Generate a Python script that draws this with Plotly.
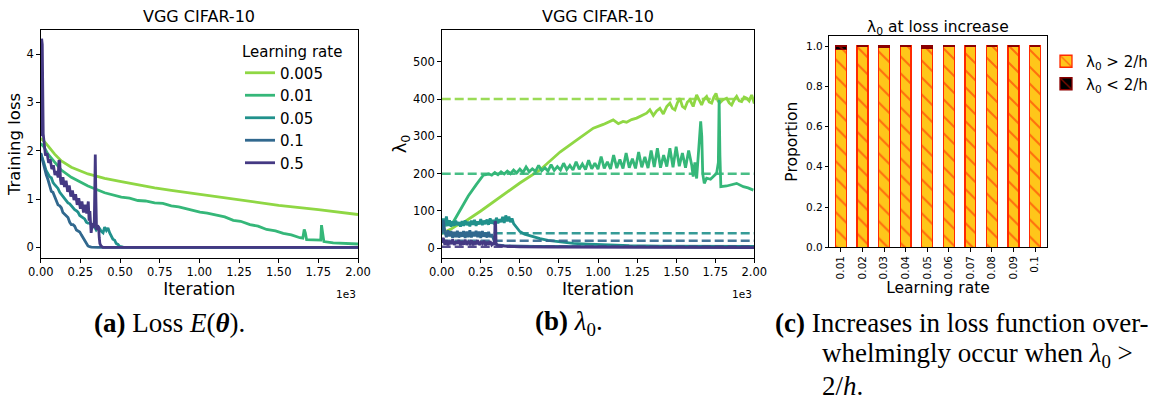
import plotly.graph_objects as go

# ---------------- data ----------------
LR_LABELS = ["0.005", "0.01", "0.05", "0.1", "0.5"]
LR_COLORS = ["#8fd744", "#35b779", "#21918c", "#31688e", "#443983"]

# (a) training loss vs iteration
LOSS_IT_005 = [0, 20, 46, 88, 130, 193, 298, 403, 508, 613, 718, 823, 928, 1050, 1250, 1500, 1750, 2000]
LOSS_005 = [2.26, 2.2, 2.1, 1.93, 1.79, 1.66, 1.52, 1.43, 1.36, 1.29, 1.23, 1.18, 1.13, 1.07, 0.98, 0.87, 0.78, 0.68]

LOSS_IT_01 = [0, 20, 46, 88, 130, 193, 298, 403, 508, 560, 613, 660, 718, 770, 823, 870, 928, 970, 1004,
              1050, 1108, 1160, 1214, 1260, 1319, 1370, 1424, 1480, 1529, 1580, 1634, 1652, 1661, 1668,
              1676, 1720, 1755, 1765, 1770, 1778, 1785, 1844, 1920, 2000]
LOSS_01 = [2.15, 2.08, 1.93, 1.77, 1.6, 1.45, 1.27, 1.13, 1.04, 1.02, 0.97, 0.96, 0.92, 0.91, 0.86, 0.84, 0.79, 0.77, 0.73,
           0.71, 0.66, 0.63, 0.56, 0.54, 0.47, 0.44, 0.37, 0.34, 0.29, 0.26, 0.2, 0.19, 0.37, 0.3,
           0.16, 0.15, 0.14, 0.15, 0.46, 0.3, 0.12, 0.095, 0.08, 0.07]

LOSS_IT_05 = [0, 8, 20, 33, 46, 57, 67, 78, 88, 99, 109, 120, 130, 140, 151, 162, 172, 183, 193, 204, 214,
              225, 235, 246, 256, 267, 277, 288, 298, 308, 319, 330, 340, 350, 360, 371, 382, 393, 403,
              414, 424, 435, 445, 455, 466, 476, 487, 497, 520, 600, 2000]
LOSS_05 = [1.95, 1.88, 1.75, 1.6, 1.52, 1.46, 1.44, 1.34, 1.3, 1.26, 1.22, 1.14, 1.1, 1.05, 1.0, 0.96, 0.92, 0.9,
           0.86, 0.8, 0.78, 0.76, 0.73, 0.66, 0.64, 0.62, 0.59, 0.52, 0.5, 0.5, 0.48, 0.43, 0.42, 0.36, 0.4,
           0.39, 0.33, 0.3, 0.42, 0.35, 0.4, 0.3, 0.22, 0.17, 0.15, 0.08, 0.06, 0.02, 0.005, 0.0, 0.0]

LOSS_IT_1 = [0, 8, 16, 25, 35, 46, 56, 67, 77, 88, 98, 109, 120, 130, 140, 151, 162, 172, 183, 193, 204, 214,
             225, 235, 246, 256, 267, 277, 288, 298, 308, 319, 360, 2000]
LOSS_1 = [1.95, 1.85, 1.7, 1.59, 1.5, 1.4, 1.3, 1.16, 1.14, 1.06, 0.95, 0.88, 0.86, 0.82, 0.72, 0.68, 0.66,
          0.62, 0.52, 0.47, 0.47, 0.44, 0.36, 0.34, 0.32, 0.26, 0.2, 0.12, 0.08, 0.03, 0.015, 0.005, 0.0, 0.0]

LOSS_IT_5 = [0, 6, 10, 16, 20, 30, 40, 50, 60, 70, 80, 90, 100, 110, 115, 120, 125, 130, 140, 150, 160, 170,
             180, 190, 200, 210, 220, 230, 240, 250, 260, 270, 280, 290, 300, 305, 310, 318, 325, 332, 338,
             344, 348, 352, 358, 365, 369, 373, 380, 392, 450, 2000]
LOSS_5 = [2.3, 4.32, 4.2, 2.35, 2.2, 1.9, 1.95, 1.75, 1.82, 1.62, 1.7, 1.5, 1.58, 1.45, 1.8, 1.78, 1.4,
          1.3, 1.45, 1.25, 1.38, 1.15, 1.28, 1.05, 1.18, 0.98, 1.1, 0.88, 1.02, 0.8, 0.95, 0.72, 0.88, 0.7,
          0.95, 0.55, 0.75, 0.3, 0.5, 0.4, 0.55, 1.92, 1.0, 0.36, 0.45, 0.42, 0.2, 0.08, 0.03, 0.0, 0.0, 0.0]

# (b) lambda_0 vs iteration
LAM_IT_005 = [0, 30, 60, 100, 150, 250, 350, 500, 629, 757, 863, 970, 1034, 1070, 1097, 1130, 1160, 1183, 1215,
              1247, 1280, 1311, 1332, 1354, 1375, 1396, 1418, 1440, 1460, 1476, 1492, 1508, 1524, 1540, 1556,
              1572, 1588, 1609, 1631, 1647, 1663, 1679, 1695, 1711, 1727, 1741, 1755, 1768, 1780, 1800, 1823,
              1839, 1855, 1871, 1887, 1903, 1919, 1935, 1951, 1967, 1983, 2000]
LAM_005 = [40, 45, 52, 62, 72, 100, 130, 175, 210, 258, 290, 322, 332, 340, 344, 334, 340, 338, 345,
           349, 355, 362, 371, 356, 368, 375, 360, 380, 389, 375, 371, 390, 402, 380, 375,
           392, 398, 380, 411, 395, 384, 400, 407, 392, 389, 405, 415, 395, 390, 398, 402,
           390, 384, 398, 407, 395, 393, 405, 402, 395, 411, 388]

LAM_IT_01 = [0, 30, 75, 120, 170, 220, 266] + list(range(300, 1601, 20)) + [
    1609, 1620, 1631, 1645, 1657, 1664, 1670, 1680, 1695, 1720, 1738, 1759, 1770, 1775, 1780,
    1786, 1823, 1860, 1887, 1930, 1960, 1994]
LAM_01 = [60, 62, 71, 105, 140, 170, 196,
          199, 196, 203, 197, 205, 199, 207, 200, 210, 202, 212, 203, 218, 205, 213, 206, 222, 208, 216, 207,
          224, 209, 219, 210, 228, 211, 222, 210, 232, 212, 226, 211, 236, 213, 228, 212, 246, 214, 232, 213,
          250, 215, 238, 214, 255, 216, 240, 214, 258, 217, 245, 215, 262, 218, 268, 216, 250, 219, 268, 217,
          272, 220, 255, 216, 262, 222,
          192, 230, 187, 260, 340, 300, 200, 174, 188, 185, 192, 201, 230, 398, 250,
          165, 167, 170, 174, 165, 162, 156]

LAM_IT_05 = list(range(0, 481, 10)) + [500, 530, 565, 600, 629, 680, 735, 790, 842, 900, 949, 1012, 1200,
                                       1400, 1600, 1800, 2000]
LAM_05 = [55, 80, 62, 85, 60, 75, 58, 72, 60, 74, 62, 70, 58, 73, 60, 75, 62, 71, 59, 74, 63, 76, 60, 72, 64,
          78, 62, 74, 65, 77, 63, 80, 66, 76, 64, 82, 67, 78, 70, 84, 68, 88, 72, 85, 70, 80, 66, 60, 54,
          45, 38, 33, 29, 26, 21, 18, 15, 13, 12, 11, 9, 7, 6, 6, 5, 5]

LAM_IT_1 = list(range(0, 331, 10)) + [340, 352, 400, 600, 1000, 2000]
LAM_1 = [40, 75, 45, 30, 48, 32, 46, 28, 44, 30, 47, 29, 43, 31, 46, 28, 45, 30, 48, 29, 44, 32, 47, 30, 45,
         28, 46, 31, 42, 29, 44, 30, 38, 25,
         15, 9, 7, 5, 4, 3]

LAM_IT_5 = list(range(0, 331, 10)) + [338, 341, 345, 348, 360, 400, 500, 700, 1000, 2000]
LAM_5 = [15, 28, 10, 22, 8, 20, 11, 24, 9, 18, 12, 22, 8, 19, 10, 23, 9, 17, 12, 21, 8, 18, 11, 22, 9, 16,
         12, 20, 8, 17, 10, 19, 9, 14,
         10, 72, 70, 12, 8, 6, 4, 3, 2.5, 2]

# stability thresholds 2/h for each learning rate
THRESHOLDS = [400, 200, 40, 20, 4]
IT_SPAN = [0, 2000]

IT_TICKS = [0, 250, 500, 750, 1000, 1250, 1500, 1750, 2000]
IT_TICK_TEXT = ["0.00", "0.25", "0.50", "0.75", "1.00", "1.25", "1.50", "1.75", "2.00"]

# (c) proportion of loss increases by lambda_0 regime
BAR_LRS = ["0.01", "0.02", "0.03", "0.04", "0.05", "0.06", "0.07", "0.08", "0.09", "0.1"]
PROP_ABOVE = [0.984, 1.0, 0.992, 1.0, 0.99, 0.998, 1.0, 1.0, 1.0, 1.0]
PROP_BELOW = [0.016, 0.0, 0.008, 0.0, 0.01, 0.002, 0.0, 0.0, 0.0, 0.0]

# ---------------- figure ----------------
W, H = 1165, 403
FONT = "DejaVu Sans"
SERIF = "Liberation Serif"
LW = 2.8


def px_x(x):
    return x / W


def px_y(y):
    return 1 - y / H


fig = go.Figure()

loss_series = [(LOSS_IT_005, LOSS_005), (LOSS_IT_01, LOSS_01), (LOSS_IT_05, LOSS_05),
               (LOSS_IT_1, LOSS_1), (LOSS_IT_5, LOSS_5)]
for (xs, ys), name, col in zip(loss_series, LR_LABELS, LR_COLORS):
    fig.add_trace(go.Scatter(x=xs, y=ys, mode="lines", name=name,
                             line=dict(color=col, width=LW),
                             xaxis="x", yaxis="y", legend="legend"))

lam_series = [(LAM_IT_005, LAM_005), (LAM_IT_01, LAM_01), (LAM_IT_05, LAM_05),
              (LAM_IT_1, LAM_1), (LAM_IT_5, LAM_5)]
for (xs, ys), thr, col in zip(lam_series, THRESHOLDS, LR_COLORS):
    fig.add_trace(go.Scatter(x=xs, y=ys, mode="lines", showlegend=False,
                             line=dict(color=col, width=LW),
                             xaxis="x2", yaxis="y2"))
    fig.add_trace(go.Scatter(x=IT_SPAN, y=[thr, thr], mode="lines", showlegend=False,
                             line=dict(color=col, width=2.5, dash="9px,4px"),
                             opacity=0.9, xaxis="x2", yaxis="y2"))

fig.add_trace(go.Bar(x=BAR_LRS, y=PROP_ABOVE, name="λ<sub>0</sub> > 2/h", width=0.5,
                     marker=dict(color="#FFC61A", line=dict(color="#FF2A00", width=1.3),
                                 pattern=dict(shape="\\", fgcolor="#FF1500", bgcolor="#FFC61A",
                                              size=12, solidity=0.17)),
                     xaxis="x3", yaxis="y3", legend="legend2"))
fig.add_trace(go.Bar(x=BAR_LRS, y=PROP_BELOW, name="λ<sub>0</sub> < 2/h", width=0.5,
                     marker=dict(color="black", line=dict(color="#8B0000", width=1.3),
                                 pattern=dict(shape="\\", fgcolor="#FF1500", bgcolor="black",
                                              size=12, solidity=0.17)),
                     xaxis="x3", yaxis="y3", legend="legend2"))

axis_common = dict(showline=True, mirror=True, linecolor="black", linewidth=1,
                   ticks="outside", ticklen=3.5, tickwidth=1, tickcolor="black",
                   showgrid=False, zeroline=False, automargin=False,
                   tickfont=dict(family=FONT, size=11.5, color="black"))
small_ticks = dict(family=FONT, size=10.5, color="black")

dom_y = [px_y(258), px_y(30)]
fig.update_layout(
    width=W, height=H, margin=dict(l=0, r=0, t=0, b=0, autoexpand=False),
    paper_bgcolor="white", plot_bgcolor="white",
    barmode="stack",
    xaxis=dict(domain=[px_x(40.7), px_x(358)], range=[0, 2000], anchor="y",
               tickvals=IT_TICKS, ticktext=IT_TICK_TEXT,
               title=dict(text="Iteration", font=dict(family=FONT, size=17, color="black"), standoff=0),
               **axis_common),
    yaxis=dict(domain=dom_y, range=[-0.22, 4.5], anchor="x", tickvals=[0, 1, 2, 3, 4],
               title=dict(text="Training loss", font=dict(family=FONT, size=16.5, color="black"), standoff=1),
               **axis_common),
    xaxis2=dict(domain=[px_x(441.7), px_x(754.3)], range=[0, 2000], anchor="y2",
                tickvals=IT_TICKS, ticktext=IT_TICK_TEXT,
                title=dict(text="Iteration", font=dict(family=FONT, size=17, color="black"), standoff=0),
                **axis_common),
    yaxis2=dict(domain=dom_y, range=[-26, 585], anchor="x2", tickvals=[0, 100, 200, 300, 400, 500],
                title=dict(text="λ<sub>0</sub>", font=dict(family=FONT, size=18, color="black"), standoff=1),
                **axis_common),
    xaxis3=dict(domain=[px_x(829.3), px_x(1046.7)], range=[-0.54, 9.54], anchor="y3",
                type="category", tickangle=-90,
                title=dict(text="Learning rate", font=dict(family=FONT, size=15.5, color="black"), standoff=2),
                **{**axis_common, "tickfont": small_ticks}),
    yaxis3=dict(domain=[px_y(247.3), px_y(36)], range=[0, 1.05], anchor="x3",
                tickvals=[0, 0.2, 0.4, 0.6, 0.8, 1.0], ticktext=["0.0", "0.2", "0.4", "0.6", "0.8", "1.0"],
                title=dict(text="Proportion", font=dict(family=FONT, size=15.5, color="black"), standoff=4),
                **{**axis_common, "tickfont": small_ticks}),
    legend=dict(x=px_x(240), y=px_y(37), xanchor="left", yanchor="top",
                bgcolor="rgba(0,0,0,0)", borderwidth=0,
                font=dict(family=FONT, size=15, color="black"),
                title=dict(text="Learning rate", font=dict(family=FONT, size=15, color="black"))),
    legend2=dict(x=px_x(1046), y=px_y(45), xanchor="left", yanchor="top",
                 bgcolor="rgba(0,0,0,0)", borderwidth=0, traceorder="normal",
                 font=dict(family=FONT, size=15, color="black")),
)

annotations = [
    dict(text="VGG CIFAR-10", x=px_x((40.7 + 358) / 2), y=px_y(17), font=dict(size=16)),
    dict(text="VGG CIFAR-10", x=px_x((441.7 + 754.3) / 2), y=px_y(17), font=dict(size=16)),
    dict(text="λ<sub>0</sub> at loss increase", x=px_x(938), y=px_y(28), font=dict(size=15.5)),
    dict(text="1e3", x=px_x(358), y=px_y(294), xanchor="right", font=dict(size=10.5)),
    dict(text="1e3", x=px_x(754.3), y=px_y(294), xanchor="right", font=dict(size=10.5)),
]
for a in annotations:
    a.setdefault("xanchor", "center")
    a["font"] = dict(family=FONT, color="black", **a["font"])
    a.update(xref="paper", yref="paper", yanchor="middle", showarrow=False)

captions = [
    ("<b>(a)</b> Loss <i>E</i>(<b><i>θ</i></b>).", 92, 323),
    ("<b>(b)</b> <i>λ</i><sub>0</sub>.", 533, 323),
    ("<b>(c)</b> Increases in loss function over-", 773, 323),
    ("whelmingly occur when <i>λ</i><sub>0</sub> >", 820, 355),
    ("2/<i>h</i>.", 820, 386),
]
for text, x, y in captions:
    annotations.append(dict(text=text, x=px_x(x), y=px_y(y), xref="paper", yref="paper",
                            xanchor="left", yanchor="middle", showarrow=False,
                            font=dict(family=SERIF, size=27, color="black")))

fig.update_layout(annotations=annotations)
fig.write_html("out.html")
